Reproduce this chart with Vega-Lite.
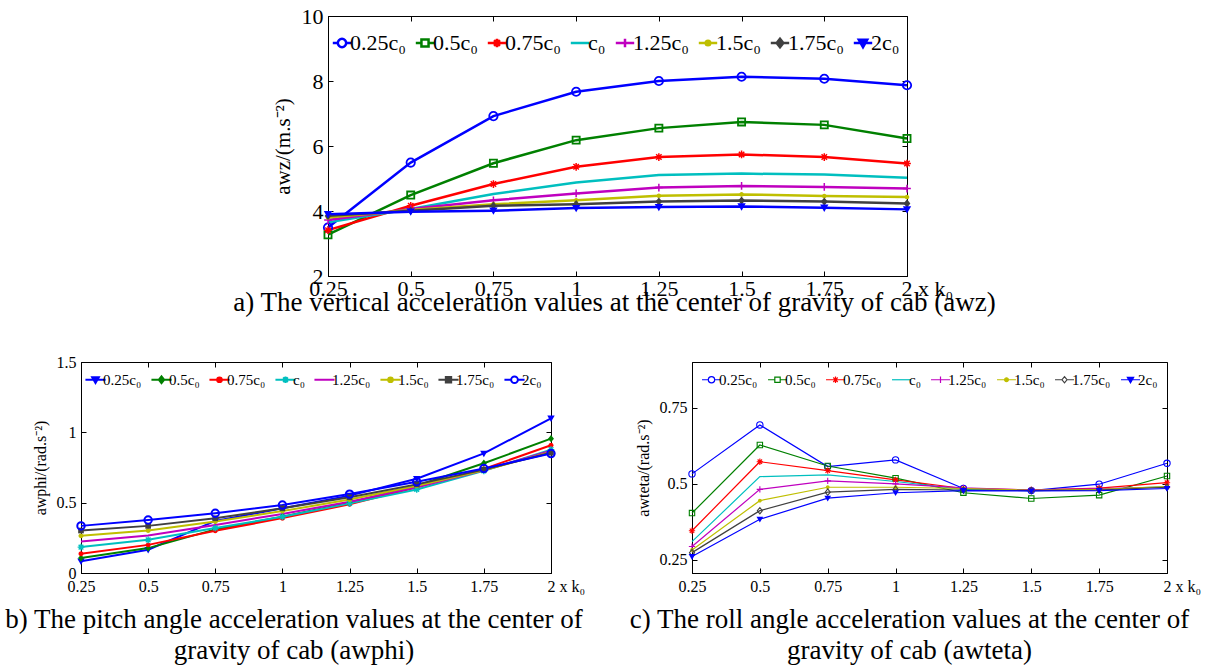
{
  "$schema": "https://vega.github.io/schema/vega-lite/v6.json",
  "padding": {"left": 4, "top": 4, "right": 0, "bottom": 0},
  "spacing": 36,
  "datasets": {
    "a": [
      {"x":0.25,"y":3.49,"s":"0.25c₀"},{"x":0.5,"y":5.49,"s":"0.25c₀"},{"x":0.75,"y":6.92,"s":"0.25c₀"},{"x":1,"y":7.67,"s":"0.25c₀"},{"x":1.25,"y":8.0,"s":"0.25c₀"},{"x":1.5,"y":8.13,"s":"0.25c₀"},{"x":1.75,"y":8.07,"s":"0.25c₀"},{"x":2,"y":7.87,"s":"0.25c₀"},
      {"x":0.25,"y":3.27,"s":"0.5c₀"},{"x":0.5,"y":4.49,"s":"0.5c₀"},{"x":0.75,"y":5.47,"s":"0.5c₀"},{"x":1,"y":6.18,"s":"0.5c₀"},{"x":1.25,"y":6.55,"s":"0.5c₀"},{"x":1.5,"y":6.74,"s":"0.5c₀"},{"x":1.75,"y":6.65,"s":"0.5c₀"},{"x":2,"y":6.23,"s":"0.5c₀"},
      {"x":0.25,"y":3.41,"s":"0.75c₀"},{"x":0.5,"y":4.16,"s":"0.75c₀"},{"x":0.75,"y":4.83,"s":"0.75c₀"},{"x":1,"y":5.36,"s":"0.75c₀"},{"x":1.25,"y":5.66,"s":"0.75c₀"},{"x":1.5,"y":5.74,"s":"0.75c₀"},{"x":1.75,"y":5.66,"s":"0.75c₀"},{"x":2,"y":5.46,"s":"0.75c₀"},
      {"x":0.25,"y":3.65,"s":"c₀"},{"x":0.5,"y":4.06,"s":"c₀"},{"x":0.75,"y":4.52,"s":"c₀"},{"x":1,"y":4.88,"s":"c₀"},{"x":1.25,"y":5.11,"s":"c₀"},{"x":1.5,"y":5.15,"s":"c₀"},{"x":1.75,"y":5.12,"s":"c₀"},{"x":2,"y":5.02,"s":"c₀"},
      {"x":0.25,"y":3.72,"s":"1.25c₀"},{"x":0.5,"y":4.06,"s":"1.25c₀"},{"x":0.75,"y":4.33,"s":"1.25c₀"},{"x":1,"y":4.54,"s":"1.25c₀"},{"x":1.25,"y":4.72,"s":"1.25c₀"},{"x":1.5,"y":4.77,"s":"1.25c₀"},{"x":1.75,"y":4.74,"s":"1.25c₀"},{"x":2,"y":4.69,"s":"1.25c₀"},
      {"x":0.25,"y":3.80,"s":"1.5c₀"},{"x":0.5,"y":4.03,"s":"1.5c₀"},{"x":0.75,"y":4.21,"s":"1.5c₀"},{"x":1,"y":4.33,"s":"1.5c₀"},{"x":1.25,"y":4.47,"s":"1.5c₀"},{"x":1.5,"y":4.51,"s":"1.5c₀"},{"x":1.75,"y":4.46,"s":"1.5c₀"},{"x":2,"y":4.43,"s":"1.5c₀"},
      {"x":0.25,"y":3.85,"s":"1.75c₀"},{"x":0.5,"y":4.01,"s":"1.75c₀"},{"x":0.75,"y":4.16,"s":"1.75c₀"},{"x":1,"y":4.21,"s":"1.75c₀"},{"x":1.25,"y":4.29,"s":"1.75c₀"},{"x":1.5,"y":4.32,"s":"1.75c₀"},{"x":1.75,"y":4.29,"s":"1.75c₀"},{"x":2,"y":4.23,"s":"1.75c₀"},
      {"x":0.25,"y":3.90,"s":"2c₀"},{"x":0.5,"y":3.98,"s":"2c₀"},{"x":0.75,"y":4.01,"s":"2c₀"},{"x":1,"y":4.09,"s":"2c₀"},{"x":1.25,"y":4.12,"s":"2c₀"},{"x":1.5,"y":4.14,"s":"2c₀"},{"x":1.75,"y":4.10,"s":"2c₀"},{"x":2,"y":4.05,"s":"2c₀"}
    ],
    "b": [
      {"x":0.25,"y":0.083,"s":"0.25c₀"},{"x":0.5,"y":0.165,"s":"0.25c₀"},{"x":0.75,"y":0.37,"s":"0.25c₀"},{"x":1,"y":0.46,"s":"0.25c₀"},{"x":1.25,"y":0.55,"s":"0.25c₀"},{"x":1.5,"y":0.67,"s":"0.25c₀"},{"x":1.75,"y":0.85,"s":"0.25c₀"},{"x":2,"y":1.10,"s":"0.25c₀"},
      {"x":0.25,"y":0.106,"s":"0.5c₀"},{"x":0.5,"y":0.177,"s":"0.5c₀"},{"x":0.75,"y":0.31,"s":"0.5c₀"},{"x":1,"y":0.40,"s":"0.5c₀"},{"x":1.25,"y":0.50,"s":"0.5c₀"},{"x":1.5,"y":0.62,"s":"0.5c₀"},{"x":1.75,"y":0.78,"s":"0.5c₀"},{"x":2,"y":0.955,"s":"0.5c₀"},
      {"x":0.25,"y":0.137,"s":"0.75c₀"},{"x":0.5,"y":0.20,"s":"0.75c₀"},{"x":0.75,"y":0.30,"s":"0.75c₀"},{"x":1,"y":0.39,"s":"0.75c₀"},{"x":1.25,"y":0.488,"s":"0.75c₀"},{"x":1.5,"y":0.61,"s":"0.75c₀"},{"x":1.75,"y":0.74,"s":"0.75c₀"},{"x":2,"y":0.908,"s":"0.75c₀"},
      {"x":0.25,"y":0.184,"s":"c₀"},{"x":0.5,"y":0.236,"s":"c₀"},{"x":0.75,"y":0.32,"s":"c₀"},{"x":1,"y":0.40,"s":"c₀"},{"x":1.25,"y":0.495,"s":"c₀"},{"x":1.5,"y":0.594,"s":"c₀"},{"x":1.75,"y":0.726,"s":"c₀"},{"x":2,"y":0.877,"s":"c₀"},
      {"x":0.25,"y":0.224,"s":"1.25c₀"},{"x":0.5,"y":0.267,"s":"1.25c₀"},{"x":0.75,"y":0.342,"s":"1.25c₀"},{"x":1,"y":0.42,"s":"1.25c₀"},{"x":1.25,"y":0.507,"s":"1.25c₀"},{"x":1.5,"y":0.61,"s":"1.25c₀"},{"x":1.75,"y":0.73,"s":"1.25c₀"},{"x":2,"y":0.87,"s":"1.25c₀"},
      {"x":0.25,"y":0.264,"s":"1.5c₀"},{"x":0.5,"y":0.302,"s":"1.5c₀"},{"x":0.75,"y":0.366,"s":"1.5c₀"},{"x":1,"y":0.44,"s":"1.5c₀"},{"x":1.25,"y":0.523,"s":"1.5c₀"},{"x":1.5,"y":0.62,"s":"1.5c₀"},{"x":1.75,"y":0.73,"s":"1.5c₀"},{"x":2,"y":0.86,"s":"1.5c₀"},
      {"x":0.25,"y":0.302,"s":"1.75c₀"},{"x":0.5,"y":0.335,"s":"1.75c₀"},{"x":0.75,"y":0.389,"s":"1.75c₀"},{"x":1,"y":0.46,"s":"1.75c₀"},{"x":1.25,"y":0.538,"s":"1.75c₀"},{"x":1.5,"y":0.63,"s":"1.75c₀"},{"x":1.75,"y":0.735,"s":"1.75c₀"},{"x":2,"y":0.855,"s":"1.75c₀"},
      {"x":0.25,"y":0.335,"s":"2c₀"},{"x":0.5,"y":0.377,"s":"2c₀"},{"x":0.75,"y":0.425,"s":"2c₀"},{"x":1,"y":0.483,"s":"2c₀"},{"x":1.25,"y":0.561,"s":"2c₀"},{"x":1.5,"y":0.649,"s":"2c₀"},{"x":1.75,"y":0.743,"s":"2c₀"},{"x":2,"y":0.849,"s":"2c₀"}
    ],
    "c": [
      {"x":0.25,"y":0.533,"s":"0.25c₀"},{"x":0.5,"y":0.694,"s":"0.25c₀"},{"x":0.75,"y":0.557,"s":"0.25c₀"},{"x":1,"y":0.579,"s":"0.25c₀"},{"x":1.25,"y":0.485,"s":"0.25c₀"},{"x":1.5,"y":0.478,"s":"0.25c₀"},{"x":1.75,"y":0.499,"s":"0.25c₀"},{"x":2,"y":0.568,"s":"0.25c₀"},
      {"x":0.25,"y":0.404,"s":"0.5c₀"},{"x":0.5,"y":0.628,"s":"0.5c₀"},{"x":0.75,"y":0.559,"s":"0.5c₀"},{"x":1,"y":0.519,"s":"0.5c₀"},{"x":1.25,"y":0.471,"s":"0.5c₀"},{"x":1.5,"y":0.452,"s":"0.5c₀"},{"x":1.75,"y":0.463,"s":"0.5c₀"},{"x":2,"y":0.526,"s":"0.5c₀"},
      {"x":0.25,"y":0.346,"s":"0.75c₀"},{"x":0.5,"y":0.573,"s":"0.75c₀"},{"x":0.75,"y":0.544,"s":"0.75c₀"},{"x":1,"y":0.513,"s":"0.75c₀"},{"x":1.25,"y":0.485,"s":"0.75c₀"},{"x":1.5,"y":0.480,"s":"0.75c₀"},{"x":1.75,"y":0.486,"s":"0.75c₀"},{"x":2,"y":0.504,"s":"0.75c₀"},
      {"x":0.25,"y":0.31,"s":"c₀"},{"x":0.5,"y":0.524,"s":"c₀"},{"x":0.75,"y":0.53,"s":"c₀"},{"x":1,"y":0.508,"s":"c₀"},{"x":1.25,"y":0.482,"s":"c₀"},{"x":1.5,"y":0.478,"s":"c₀"},{"x":1.75,"y":0.482,"s":"c₀"},{"x":2,"y":0.491,"s":"c₀"},
      {"x":0.25,"y":0.294,"s":"1.25c₀"},{"x":0.5,"y":0.482,"s":"1.25c₀"},{"x":0.75,"y":0.51,"s":"1.25c₀"},{"x":1,"y":0.50,"s":"1.25c₀"},{"x":1.25,"y":0.487,"s":"1.25c₀"},{"x":1.5,"y":0.48,"s":"1.25c₀"},{"x":1.75,"y":0.485,"s":"1.25c₀"},{"x":2,"y":0.489,"s":"1.25c₀"},
      {"x":0.25,"y":0.283,"s":"1.5c₀"},{"x":0.5,"y":0.445,"s":"1.5c₀"},{"x":0.75,"y":0.489,"s":"1.5c₀"},{"x":1,"y":0.489,"s":"1.5c₀"},{"x":1.25,"y":0.485,"s":"1.5c₀"},{"x":1.5,"y":0.479,"s":"1.5c₀"},{"x":1.75,"y":0.482,"s":"1.5c₀"},{"x":2,"y":0.491,"s":"1.5c₀"},
      {"x":0.25,"y":0.274,"s":"1.75c₀"},{"x":0.5,"y":0.412,"s":"1.75c₀"},{"x":0.75,"y":0.473,"s":"1.75c₀"},{"x":1,"y":0.482,"s":"1.75c₀"},{"x":1.25,"y":0.480,"s":"1.75c₀"},{"x":1.5,"y":0.478,"s":"1.75c₀"},{"x":1.75,"y":0.48,"s":"1.75c₀"},{"x":2,"y":0.489,"s":"1.75c₀"},
      {"x":0.25,"y":0.261,"s":"2c₀"},{"x":0.5,"y":0.384,"s":"2c₀"},{"x":0.75,"y":0.453,"s":"2c₀"},{"x":1,"y":0.471,"s":"2c₀"},{"x":1.25,"y":0.478,"s":"2c₀"},{"x":1.5,"y":0.477,"s":"2c₀"},{"x":1.75,"y":0.478,"s":"2c₀"},{"x":2,"y":0.485,"s":"2c₀"}
    ]
  },
  "vconcat": [
    {
      "spacing": 10,
      "resolve": {"scale": {"color": "independent"}, "legend": {"color": "independent"}},
      "hconcat": [
        {"width": 141, "height": 260, "view": {"stroke": null}, "data": {"values": []}, "mark": {"type": "point", "opacity": 0}, "encoding": {}},
        {
          "width": 579, "height": 260,
          "data": {"name": "a"},
          "title": {"text": "a) The vertical acceleration values at the center of gravity of cab (awz)", "offset": -9, "dx": -3},
          "encoding": {
            "x": {"field": "x", "type": "quantitative", "scale": {"domain": [0.25, 2], "nice": false, "zero": false}, "axis": null},
            "y": {"field": "y", "type": "quantitative", "scale": {"domain": [2, 10], "nice": false, "zero": false}, "axis": null},
            "color": {"field": "s", "type": "nominal"}
          },
          "layer": [
            {
              "mark": {"type": "line", "strokeWidth": 2.5},
              "encoding": {
                "x": {"field": "x", "type": "quantitative", "scale": {"domain": [0.25, 2], "nice": false, "zero": false},
                  "axis": {"values": [0.25,0.5,0.75,1,1.25,1.5,1.75,2], "format": ".3~g", "title": null, "labelFontSize": 22, "labelPadding": 7,
                    "labelExpr": "datum.value == 2 ? '2 x k₀' : datum.label",
                    "labelAlign": {"condition": {"test": "datum.value == 2", "value": "left"}, "value": "center"},
                    "labelOffset": {"condition": {"test": "datum.value == 2", "value": -6}, "value": 0}}},
                "y": {"field": "y", "type": "quantitative", "scale": {"domain": [2, 10], "nice": false, "zero": false},
                  "axis": {"values": [2,4,6,8,10], "format": ".3~g", "title": "awz/(m.s⁻²)", "titleFontSize": 21, "labelFontSize": 22}},
                "color": {"field": "s", "type": "nominal",
                  "scale": {"domain": ["0.25c₀","0.5c₀","0.75c₀","c₀","1.25c₀","1.5c₀","1.75c₀","2c₀"], "range": ["#0000FF","#008000","#FF0000","#00BFBF","#BF00BF","#BFBF00","#404040","#0000FF"]},
                  "legend": {"orient": "none", "legendX": 3, "legendY": 16, "direction": "horizontal", "title": null,
                    "labelFontSize": 22, "labelFont": "Liberation Serif", "labelColor": "#000", "symbolSize": 70, "symbolStrokeWidth": 2.5,
                    "symbolOffset": 0, "labelOffset": -3, "columnPadding": 4,
                    "encode": {"symbols": {"update": {
                      "shape": {"signal": "['M-2.2,0L-1,0M1,0L2.2,0M-1,0A1,1 0 1,0 1,0A1,1 0 1,0 -1,0','M-2.2,0L-0.85,0M0.85,0L2.2,0M-0.85,-0.85L0.85,-0.85L0.85,0.85L-0.85,0.85Z','M-2.2,0L2.2,0M0,-1L0,1M-0.7,-0.7L0.7,0.7M-0.7,0.7L0.7,-0.7','M-2.2,0L2.2,0','M-2.2,0L2.2,0M0,-1L0,1','M-2.2,0L2.2,0M-0.55,0A0.55,0.55 0 1,0 0.55,0A0.55,0.55 0 1,0 -0.55,0','M-2.2,0L2.2,0M0,-1L0.8,0L0,1L-0.8,0Z','M-2.2,0L2.2,0M-1,-0.75L1,-0.75L0,1Z'][datum.index]"},
                      "stroke": {"signal": "['#0000FF','#008000','#FF0000','#00BFBF','#BF00BF','#BFBF00','#404040','#0000FF'][datum.index]"},
                      "fill": {"signal": "['#ffffff','#ffffff','#FF0000','#00BFBF','#BF00BF','#BFBF00','#404040','#0000FF'][datum.index]"},
                      "fillOpacity": {"signal": "[0,0,0,0,0,1,1,1][datum.index]"},
                      "strokeWidth": {"value": 2.5}
                    }}}}}
              }
            },
            {"transform": [{"filter": "datum.s == '0.25c₀'"}], "mark": {"type": "point", "filled": false, "size": 70, "strokeWidth": 1.8, "opacity": 1, "shape": "M-1,0A1,1 0 1,0 1,0A1,1 0 1,0 -1,0"}},
            {"transform": [{"filter": "datum.s == '0.5c₀'"}], "mark": {"type": "point", "filled": false, "size": 70, "strokeWidth": 1.8, "opacity": 1, "shape": "M-0.85,-0.85L0.85,-0.85L0.85,0.85L-0.85,0.85Z"}},
            {"transform": [{"filter": "datum.s == '0.75c₀'"}], "mark": {"type": "point", "filled": false, "size": 60, "strokeWidth": 1.5, "opacity": 1, "shape": "M-1,0L1,0M0,-1L0,1M-0.7,-0.7L0.7,0.7M-0.7,0.7L0.7,-0.7"}},
            {"transform": [{"filter": "datum.s == '1.25c₀'"}], "mark": {"type": "point", "filled": false, "size": 60, "strokeWidth": 1.5, "opacity": 1, "shape": "M-1,0L1,0M0,-1L0,1"}},
            {"transform": [{"filter": "datum.s == '1.5c₀'"}], "mark": {"type": "point", "filled": true, "size": 70, "opacity": 1, "shape": "M-0.55,0A0.55,0.55 0 1,0 0.55,0A0.55,0.55 0 1,0 -0.55,0"}},
            {"transform": [{"filter": "datum.s == '1.75c₀'"}], "mark": {"type": "point", "filled": true, "size": 70, "opacity": 1, "shape": "M0,-1L0.8,0L0,1L-0.8,0Z"}},
            {"transform": [{"filter": "datum.s == '2c₀'"}], "mark": {"type": "point", "filled": true, "size": 70, "opacity": 1, "shape": "M-1,-0.75L1,-0.75L0,1Z"}},
            {
              "mark": {"type": "point", "opacity": 0},
              "encoding": {
                "x": {"field": "x", "type": "quantitative", "scale": {"domain": [0.25, 2], "nice": false, "zero": false},
                  "axis": {"orient": "top", "values": [0.25,0.5,0.75,1,1.25,1.5,1.75,2], "labels": false, "domain": false, "title": null}},
                "y": {"field": "y", "type": "quantitative", "scale": {"domain": [2, 10], "nice": false, "zero": false},
                  "axis": {"orient": "right", "values": [2,4,6,8,10], "labels": false, "domain": false, "title": null}},
                "color": {"value": "transparent"}
              }
            }
          ],
          "resolve": {"scale": {"x": "independent", "y": "independent"}}
        }
      ]
    },
    {
      "spacing": 43,
      "resolve": {"scale": {"color": "independent"}, "legend": {"color": "independent"}},
      "hconcat": [
        {
          "width": 470, "height": 211,
          "data": {"name": "b"},
          "title": {"text": ["b) The pitch angle acceleration values at the center of", "gravity of cab (awphi)"], "offset": 13, "dx": -22, "lineHeight": 31},
          "encoding": {
            "x": {"field": "x", "type": "quantitative", "scale": {"domain": [0.25, 2], "nice": false, "zero": false}, "axis": null},
            "y": {"field": "y", "type": "quantitative", "scale": {"domain": [0, 1.5], "nice": false, "zero": false}, "axis": null},
            "color": {"field": "s", "type": "nominal"}
          },
          "layer": [
            {
              "mark": {"type": "line", "strokeWidth": 2},
              "encoding": {
                "x": {"field": "x", "type": "quantitative", "scale": {"domain": [0.25, 2], "nice": false, "zero": false},
                  "axis": {"values": [0.25,0.5,0.75,1,1.25,1.5,1.75,2], "format": ".3~g", "title": null, "labelFontSize": 16,
                    "labelExpr": "datum.value == 2 ? '2 x k₀' : datum.label",
                    "labelAlign": {"condition": {"test": "datum.value == 2", "value": "left"}, "value": "center"},
                    "labelOffset": {"condition": {"test": "datum.value == 2", "value": -4}, "value": 0}}},
                "y": {"field": "y", "type": "quantitative", "scale": {"domain": [0, 1.5], "nice": false, "zero": false},
                  "axis": {"values": [0,0.5,1,1.5], "format": ".3~g", "title": "awphi/(rad.s⁻²)", "titleFontSize": 16, "labelFontSize": 16}},
                "color": {"field": "s", "type": "nominal",
                  "scale": {"domain": ["0.25c₀","0.5c₀","0.75c₀","c₀","1.25c₀","1.5c₀","1.75c₀","2c₀"], "range": ["#0000FF","#008000","#FF0000","#00BFBF","#BF00BF","#BFBF00","#404040","#0000FF"]},
                  "legend": {"orient": "none", "legendX": 4, "legendY": 10, "direction": "horizontal", "title": null,
                    "labelFontSize": 15, "labelFont": "Liberation Serif", "labelColor": "#000", "symbolSize": 45, "symbolStrokeWidth": 2,
                    "symbolOffset": 3, "labelOffset": 0, "columnPadding": 5,
                    "encode": {"symbols": {"update": {
                      "shape": {"signal": "['M-3,0L3,0M-1,-0.75L1,-0.75L0,1Z','M-3,0L3,0M0,-1L0.8,0L0,1L-0.8,0Z','M-3,0L3,0M-0.7,0A0.7,0.7 0 1,0 0.7,0A0.7,0.7 0 1,0 -0.7,0','M-3,0L3,0M0,-1L0,1M-0.7,-0.7L0.7,0.7M-0.7,0.7L0.7,-0.7','M-3,0L3,0','M-3,0L3,0M-0.7,0A0.7,0.7 0 1,0 0.7,0A0.7,0.7 0 1,0 -0.7,0','M-3,0L3,0M-0.8,-0.8L0.8,-0.8L0.8,0.8L-0.8,0.8Z','M-3,0L-1,0M1,0L3,0M-1,0A1,1 0 1,0 1,0A1,1 0 1,0 -1,0'][datum.index]"},
                      "stroke": {"signal": "['#0000FF','#008000','#FF0000','#00BFBF','#BF00BF','#BFBF00','#404040','#0000FF'][datum.index]"},
                      "fill": {"signal": "['#0000FF','#008000','#FF0000','#ffffff','#ffffff','#BFBF00','#404040','#ffffff'][datum.index]"},
                      "fillOpacity": {"signal": "[1,1,1,0,0,1,1,0][datum.index]"},
                      "strokeWidth": {"value": 2}
                    }}}}}
              }
            },
            {"transform": [{"filter": "datum.s == '0.25c₀'"}], "mark": {"type": "point", "filled": true, "size": 55, "opacity": 1, "shape": "M-1,-0.75L1,-0.75L0,1Z"}},
            {"transform": [{"filter": "datum.s == '0.5c₀'"}], "mark": {"type": "point", "filled": true, "size": 55, "opacity": 1, "shape": "M0,-1L0.8,0L0,1L-0.8,0Z"}},
            {"transform": [{"filter": "datum.s == '0.75c₀'"}], "mark": {"type": "point", "filled": true, "size": 50, "opacity": 1, "shape": "M-0.7,0A0.7,0.7 0 1,0 0.7,0A0.7,0.7 0 1,0 -0.7,0"}},
            {"transform": [{"filter": "datum.s == 'c₀'"}], "mark": {"type": "point", "filled": false, "size": 45, "strokeWidth": 1.4, "opacity": 1, "shape": "M-1,0L1,0M0,-1L0,1M-0.7,-0.7L0.7,0.7M-0.7,0.7L0.7,-0.7"}},
            {"transform": [{"filter": "datum.s == '1.5c₀'"}], "mark": {"type": "point", "filled": true, "size": 50, "opacity": 1, "shape": "M-0.7,0A0.7,0.7 0 1,0 0.7,0A0.7,0.7 0 1,0 -0.7,0"}},
            {"transform": [{"filter": "datum.s == '1.75c₀'"}], "mark": {"type": "point", "filled": true, "size": 50, "opacity": 1, "shape": "M-0.8,-0.8L0.8,-0.8L0.8,0.8L-0.8,0.8Z"}},
            {"transform": [{"filter": "datum.s == '2c₀'"}], "mark": {"type": "point", "filled": false, "size": 55, "strokeWidth": 2, "opacity": 1, "shape": "M-1,0A1,1 0 1,0 1,0A1,1 0 1,0 -1,0"}},
            {
              "mark": {"type": "point", "opacity": 0},
              "encoding": {
                "x": {"field": "x", "type": "quantitative", "scale": {"domain": [0.25, 2], "nice": false, "zero": false},
                  "axis": {"orient": "top", "values": [0.25,0.5,0.75,1,1.25,1.5,1.75,2], "labels": false, "domain": false, "title": null}},
                "y": {"field": "y", "type": "quantitative", "scale": {"domain": [0, 1.5], "nice": false, "zero": false},
                  "axis": {"orient": "right", "values": [0,0.5,1,1.5], "labels": false, "domain": false, "title": null}},
                "color": {"value": "transparent"}
              }
            }
          ],
          "resolve": {"scale": {"x": "independent", "y": "independent"}}
        },
        {
          "width": 475, "height": 211,
          "data": {"name": "c"},
          "title": {"text": ["c) The roll angle acceleration values at the center of", "gravity of cab (awteta)"], "offset": 13, "dx": -20, "lineHeight": 31},
          "encoding": {
            "x": {"field": "x", "type": "quantitative", "scale": {"domain": [0.25, 2], "nice": false, "zero": false}, "axis": null},
            "y": {"field": "y", "type": "quantitative", "scale": {"domain": [0.207, 0.901], "nice": false, "zero": false}, "axis": null},
            "color": {"field": "s", "type": "nominal"}
          },
          "layer": [
            {
              "mark": {"type": "line", "strokeWidth": 1.2},
              "encoding": {
                "x": {"field": "x", "type": "quantitative", "scale": {"domain": [0.25, 2], "nice": false, "zero": false},
                  "axis": {"values": [0.25,0.5,0.75,1,1.25,1.5,1.75,2], "format": ".3~g", "title": null, "labelFontSize": 16,
                    "labelExpr": "datum.value == 2 ? '2 x k₀' : datum.label",
                    "labelAlign": {"condition": {"test": "datum.value == 2", "value": "left"}, "value": "center"},
                    "labelOffset": {"condition": {"test": "datum.value == 2", "value": -4}, "value": 0}}},
                "y": {"field": "y", "type": "quantitative", "scale": {"domain": [0.207, 0.901], "nice": false, "zero": false},
                  "axis": {"values": [0.25,0.5,0.75], "format": ".3~g", "title": "awteta/(rad.s⁻²)", "titleFontSize": 16, "labelFontSize": 16}},
                "color": {"field": "s", "type": "nominal",
                  "scale": {"domain": ["0.25c₀","0.5c₀","0.75c₀","c₀","1.25c₀","1.5c₀","1.75c₀","2c₀"], "range": ["#0000FF","#008000","#FF0000","#00BFBF","#BF00BF","#BFBF00","#404040","#0000FF"]},
                  "legend": {"orient": "none", "legendX": 9, "legendY": 10, "direction": "horizontal", "title": null,
                    "labelFontSize": 15, "labelFont": "Liberation Serif", "labelColor": "#000", "symbolSize": 40, "symbolStrokeWidth": 1.2,
                    "symbolOffset": 3, "labelOffset": 0, "columnPadding": 7,
                    "encode": {"symbols": {"update": {
                      "shape": {"signal": "['M-3,0L-1,0M1,0L3,0M-1,0A1,1 0 1,0 1,0A1,1 0 1,0 -1,0','M-3,0L-0.85,0M0.85,0L3,0M-0.85,-0.85L0.85,-0.85L0.85,0.85L-0.85,0.85Z','M-3,0L3,0M0,-1L0,1M-0.7,-0.7L0.7,0.7M-0.7,0.7L0.7,-0.7','M-3,0L3,0','M-3,0L3,0M0,-1L0,1','M-3,0L3,0M-0.6,0A0.6,0.6 0 1,0 0.6,0A0.6,0.6 0 1,0 -0.6,0','M-3,0L-0.8,0M0.8,0L3,0M0,-1L0.8,0L0,1L-0.8,0Z','M-3,0L3,0M-1,-0.75L1,-0.75L0,1Z'][datum.index]"},
                      "stroke": {"signal": "['#0000FF','#008000','#FF0000','#00BFBF','#BF00BF','#BFBF00','#404040','#0000FF'][datum.index]"},
                      "fill": {"signal": "['#ffffff','#ffffff','#ffffff','#ffffff','#ffffff','#BFBF00','#ffffff','#0000FF'][datum.index]"},
                      "fillOpacity": {"signal": "[0,0,0,0,0,1,0,1][datum.index]"},
                      "strokeWidth": {"value": 1.2}
                    }}}}}
              }
            },
            {"transform": [{"filter": "datum.s == '0.25c₀'"}], "mark": {"type": "point", "filled": false, "size": 40, "strokeWidth": 1.1, "opacity": 1, "shape": "M-1,0A1,1 0 1,0 1,0A1,1 0 1,0 -1,0"}},
            {"transform": [{"filter": "datum.s == '0.5c₀'"}], "mark": {"type": "point", "filled": false, "size": 40, "strokeWidth": 1.1, "opacity": 1, "shape": "M-0.85,-0.85L0.85,-0.85L0.85,0.85L-0.85,0.85Z"}},
            {"transform": [{"filter": "datum.s == '0.75c₀'"}], "mark": {"type": "point", "filled": false, "size": 40, "strokeWidth": 1.1, "opacity": 1, "shape": "M-1,0L1,0M0,-1L0,1M-0.7,-0.7L0.7,0.7M-0.7,0.7L0.7,-0.7"}},
            {"transform": [{"filter": "datum.s == '1.25c₀'"}], "mark": {"type": "point", "filled": false, "size": 40, "strokeWidth": 1.1, "opacity": 1, "shape": "M-1,0L1,0M0,-1L0,1"}},
            {"transform": [{"filter": "datum.s == '1.5c₀'"}], "mark": {"type": "point", "filled": true, "size": 40, "opacity": 1, "shape": "M-0.6,0A0.6,0.6 0 1,0 0.6,0A0.6,0.6 0 1,0 -0.6,0"}},
            {"transform": [{"filter": "datum.s == '1.75c₀'"}], "mark": {"type": "point", "filled": false, "size": 40, "strokeWidth": 1.1, "opacity": 1, "shape": "M0,-1L0.8,0L0,1L-0.8,0Z"}},
            {"transform": [{"filter": "datum.s == '2c₀'"}], "mark": {"type": "point", "filled": true, "size": 45, "opacity": 1, "shape": "M-1,-0.75L1,-0.75L0,1Z"}},
            {
              "mark": {"type": "point", "opacity": 0},
              "encoding": {
                "x": {"field": "x", "type": "quantitative", "scale": {"domain": [0.25, 2], "nice": false, "zero": false},
                  "axis": {"orient": "top", "values": [0.25,0.5,0.75,1,1.25,1.5,1.75,2], "labels": false, "domain": false, "title": null}},
                "y": {"field": "y", "type": "quantitative", "scale": {"domain": [0.207, 0.901], "nice": false, "zero": false},
                  "axis": {"orient": "right", "values": [0.25,0.5,0.75], "labels": false, "domain": false, "title": null}},
                "color": {"value": "transparent"}
              }
            }
          ],
          "resolve": {"scale": {"x": "independent", "y": "independent"}}
        }
      ]
    }
  ],
  "resolve": {"scale": {"color": "independent"}, "legend": {"color": "independent"}},
  "config": {
    "font": "Liberation Serif",
    "background": "#ffffff",
    "view": {"stroke": "#000000", "strokeWidth": 1},
    "axis": {"grid": false, "domainColor": "#000000", "tickColor": "#000000", "labelColor": "#000000", "titleColor": "#000000",
      "tickSize": -5, "labelPadding": 10, "titleFontWeight": "normal", "labelFont": "Liberation Serif", "titleFont": "Liberation Serif",
      "titlePadding": 8, "labelOverlap": false, "labelFlush": false, "domainWidth": 1, "tickWidth": 1},
    "title": {"font": "Liberation Serif", "fontWeight": "normal", "color": "#000000", "fontSize": 27, "orient": "bottom", "anchor": "middle", "frame": "group"},
    "legend": {"labelFont": "Liberation Serif", "labelColor": "#000000"}
  }
}
